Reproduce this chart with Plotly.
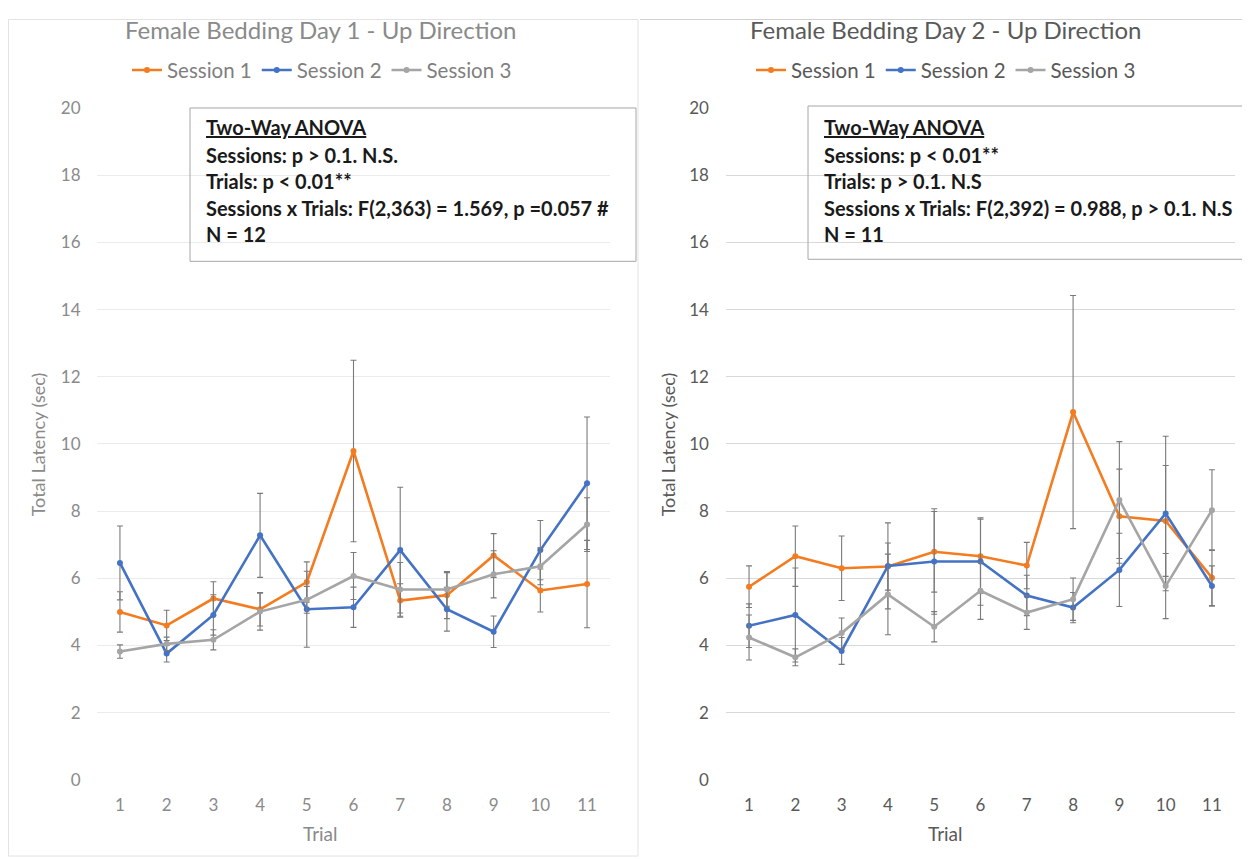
import plotly.graph_objects as go

W, H = 1250, 859

trials = list(range(1, 12))
tick_labels = [str(t) for t in trials]
series_names = ["Session 1", "Session 2", "Session 3"]

# Day 1 means
d1_s1 = [5.0, 4.6, 5.4, 5.08, 5.89, 9.79, 5.34, 5.5, 6.68, 5.64, 5.83]
d1_s2 = [6.46, 3.76, 4.91, 7.28, 5.08, 5.14, 6.84, 5.08, 4.41, 6.84, 8.83]
d1_s3 = [3.82, 4.05, 4.17, 5.01, 5.36, 6.07, 5.67, 5.67, 6.12, 6.36, 7.6]
# Day 1 errors
d1_e1 = [0.6, 0.45, 0.5, 0.5, 0.6, 2.7, 0.5, 0.7, 0.65, 0.64, 1.3]
d1_e2 = [1.1, 0.25, 0.6, 1.25, 1.13, 0.6, 1.87, 0.65, 0.47, 0.88, 1.97]
d1_e3 = [0.2, 0.2, 0.3, 0.55, 0.4, 0.7, 0.8, 0.5, 0.7, 0.55, 0.8]

# Day 2 means
d2_s1 = [5.75, 6.66, 6.3, 6.35, 6.79, 6.66, 6.38, 10.95, 7.85, 7.71, 6.02]
d2_s2 = [4.59, 4.91, 3.84, 6.37, 6.5, 6.5, 5.49, 5.13, 6.25, 7.93, 5.77]
d2_s3 = [4.24, 3.65, 4.37, 5.52, 4.56, 5.63, 4.98, 5.38, 8.33, 5.77, 8.03]
# Day 2 errors
d2_e1 = [0.62, 0.9, 0.96, 0.7, 1.2, 1.1, 0.69, 3.47, 1.4, 1.65, 0.83]
d2_e2 = [0.65, 1.4, 0.4, 1.28, 1.57, 1.3, 0.6, 0.45, 1.09, 2.3, 0.6]
d2_e3 = [0.67, 0.25, 0.45, 1.2, 0.45, 0.85, 0.5, 0.63, 1.74, 0.97, 1.2]

colors = ["#F47C20", "#4472C4", "#A5A5A5"]

fig = go.Figure()

def add_series(vals, errs, name, color, xa, ya, legend):
    fig.add_trace(go.Scatter(
        x=trials, y=vals, name=name, mode="lines+markers",
        line=dict(color=color, width=2.6),
        marker=dict(color=color, size=6),
        error_y=dict(type="data", array=errs, visible=True, color="#7A7A7A",
                     thickness=1.1, width=3),
        xaxis=xa, yaxis=ya, legend=legend,
    ))

for vals, errs, nm, c in zip([d1_s1, d1_s2, d1_s3], [d1_e1, d1_e2, d1_e3], series_names, colors):
    add_series(vals, errs, nm, c, "x", "y", "legend")
for vals, errs, nm, c in zip([d2_s1, d2_s2, d2_s3], [d2_e1, d2_e2, d2_e3], series_names, colors):
    add_series(vals, errs, nm, c, "x2", "y2", "legend2")

def px_x(x):
    return x / W

def px_y(y):
    return 1 - y / H

font_fam = "Lato, Carlito, Liberation Sans, sans-serif"
left_gray = "#8A8A8A"
right_gray = "#595959"

axis_common = dict(showline=False, zeroline=False, ticks="")

fig.update_layout(
    width=W, height=H,
    margin=dict(l=0, r=0, t=0, b=0),
    paper_bgcolor="white", plot_bgcolor="white",
    font=dict(family=font_fam),
    showlegend=True,
    xaxis=dict(domain=[px_x(88.6), px_x(602.4)], range=[0.5, 11.5], tickmode="array",
               tickvals=trials, ticktext=tick_labels, showgrid=False,
               tickfont=dict(size=17, color=left_gray), anchor="y", ticklabelstandoff=13,
               **axis_common),
    yaxis=dict(domain=[px_y(780), px_y(91.2)], range=[0, 20], dtick=2,
               gridcolor="#EBEBEB", gridwidth=1, anchor="x",
               tickfont=dict(size=17, color=left_gray), ticklabelstandoff=15,
               **axis_common),
    xaxis2=dict(domain=[px_x(717.9), px_x(1227.1)], range=[0.5, 11.5], tickmode="array",
                tickvals=trials, ticktext=tick_labels, showgrid=False,
                tickfont=dict(size=17, color=right_gray), anchor="y2", ticklabelstandoff=13,
                **axis_common),
    yaxis2=dict(domain=[px_y(780), px_y(91.2)], range=[0, 20], dtick=2,
                gridcolor="#D9D9D9", gridwidth=1, anchor="x2",
                tickfont=dict(size=17, color=right_gray), ticklabelstandoff=16,
                **axis_common),
    legend=dict(orientation="h", x=px_x(314), xanchor="center", y=px_y(52.5), yanchor="middle",
                font=dict(size=20.5, color="#7F7F7F"), itemwidth=30, bgcolor="rgba(0,0,0,0)"),
    legend2=dict(orientation="h", x=px_x(938), xanchor="center", y=px_y(52.5), yanchor="middle",
                 font=dict(size=20.5, color=right_gray), itemwidth=30, bgcolor="rgba(0,0,0,0)"),
)

annotations = []
# titles
annotations.append(dict(text="Female Bedding Day 1 - Up Direction", x=px_x(312), y=px_y(10.7),
                        xref="paper", yref="paper", showarrow=False, xanchor="center", yanchor="middle",
                        font=dict(size=24, color=left_gray)))
annotations.append(dict(text="Female Bedding Day 2 - Up Direction", x=px_x(937), y=px_y(10.7),
                        xref="paper", yref="paper", showarrow=False, xanchor="center", yanchor="middle",
                        font=dict(size=24, color=right_gray)))
# axis titles
for xx, col in [(312, left_gray), (937, right_gray)]:
    annotations.append(dict(text="Trial", x=px_x(xx), y=px_y(835), xref="paper", yref="paper",
                            showarrow=False, xanchor="center", yanchor="middle",
                            font=dict(size=19, color=col)))
for xx, col in [(30, left_gray), (660, right_gray)]:
    annotations.append(dict(text="Total Latency (sec)", x=px_x(xx), y=px_y(436), xref="paper", yref="paper",
                            showarrow=False, xanchor="center", yanchor="middle", textangle=-90,
                            font=dict(size=18, color=col)))

box1_lines = ["<u>Two-Way ANOVA</u>", "Sessions: p > 0.1. N.S.", "Trials: p < 0.01**",
              "Sessions x Trials: F(2,363) = 1.569, p =0.057 #", "N = 12"]
box2_lines = ["<u>Two-Way ANOVA</u>", "Sessions: p < 0.01**", "Trials: p > 0.1. N.S",
              "Sessions x Trials: F(2,392) = 0.988, p > 0.1. N.S", "N = 11"]
line_y = [110.7, 139.2, 165.8, 193.3, 220.9]
for lines, x0 in [(box1_lines, 196), (box2_lines, 814)]:
    for t, yy in zip(lines, line_y):
        annotations.append(dict(text="<b>" + t + "</b>", x=px_x(x0), y=px_y(yy), xref="paper", yref="paper",
                                showarrow=False, xanchor="left", yanchor="middle",
                                font=dict(size=20, color="#1A1A1A")))
fig.update_layout(annotations=annotations)

shapes = [
    dict(type="rect", xref="paper", yref="paper", x0=px_x(182), x1=px_x(628), y0=px_y(248.4), y1=px_y(91.2),
         line=dict(color="#A6A6A6", width=1), fillcolor="rgba(255,255,255,0)"),
    dict(type="rect", xref="paper", yref="paper", x0=px_x(800), x1=px_x(1240), y0=px_y(246.3), y1=px_y(89.2),
         line=dict(color="#A6A6A6", width=1), fillcolor="rgba(255,255,255,0)"),
    dict(type="rect", xref="paper", yref="paper", x0=px_x(0.5), x1=px_x(630), y0=px_y(858), y1=px_y(0.5),
         line=dict(color="#E3E3E3", width=1)),
    dict(type="line", xref="paper", yref="paper", x0=px_x(632), x1=px_x(1250), y0=px_y(0.5), y1=px_y(0.5),
         line=dict(color="#D0D0D0", width=1)),
]
fig.update_layout(shapes=shapes)

fig.write_html("out.html")
